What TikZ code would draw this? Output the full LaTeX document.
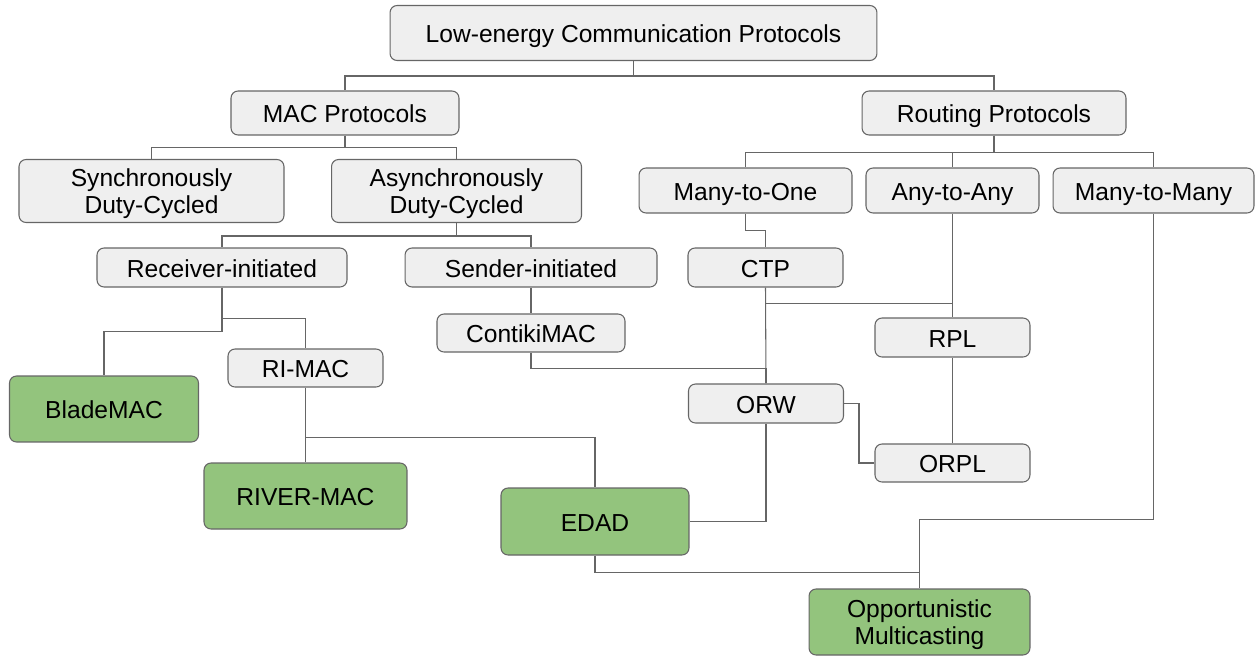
\documentclass[tikz,border=0pt]{standalone}
\usepackage{fontspec}
\setmainfont{Liberation Sans}
\usepackage{xcolor}
\usepackage{tikz}
\usetikzlibrary{positioning,calc}

\definecolor{boxgray}{HTML}{EFEFEF}
\definecolor{leafgreen}{HTML}{93C47D}
\definecolor{edgegray}{HTML}{666666}

\begin{document}
\begin{tikzpicture}[
    x=0.02cm, y=-0.02cm,
    proto/.style={rectangle, rounded corners=4pt, draw=edgegray, fill=boxgray, line width=0.6pt, inner sep=0pt, align=center, text depth=0pt, font=\fontsize{14}{15.5}\selectfont},
    oneline/.style={text height=11pt},
    leaf/.style={proto, fill=leafgreen},
    conn/.style={draw=edgegray, line width=0.6pt}
]
\useasboundingbox (0,0) rectangle (1255,656);

% Top levels
\node[proto, oneline, minimum width=9.74cm, minimum height=1.1cm] (root) at (633.5,33) {Low-energy Communication Protocols};
\node[proto, oneline, minimum width=4.56cm, minimum height=0.88cm] (mac) at (345,113) {MAC Protocols};
\node[proto, oneline, minimum width=5.28cm, minimum height=0.88cm] (routing) at (994,113) {Routing Protocols};

% MAC side
\node[proto, minimum width=5.3cm, minimum height=1.26cm] (sync) at (151.5,191) {Synchronously\\Duty-Cycled};
\node[proto, minimum width=5.0cm, minimum height=1.26cm] (async) at (456.5,191) {Asynchronously\\Duty-Cycled};
\node[proto, oneline, minimum width=5.0cm, minimum height=0.78cm] (recv) at (222,267.5) {Receiver-initiated};
\node[proto, oneline, minimum width=5.04cm, minimum height=0.78cm] (send) at (531,267.5) {Sender-initiated};
\node[proto, oneline, minimum width=3.76cm, minimum height=0.76cm] (contiki) at (531,333) {ContikiMAC};
\node[proto, oneline, minimum width=3.1cm, minimum height=0.76cm] (rimac) at (305.5,368) {RI-MAC};

% Routing side
\node[proto, oneline, minimum width=4.26cm, minimum height=0.9cm] (manyone) at (745.5,190.5) {Many-to-One};
\node[proto, oneline, minimum width=3.46cm, minimum height=0.9cm] (anyany) at (952.5,190.5) {Any-to-Any};
\node[proto, oneline, minimum width=4.02cm, minimum height=0.9cm] (manymany) at (1153.5,190.5) {Many-to-Many};
\node[proto, oneline, minimum width=3.1cm, minimum height=0.78cm] (ctp) at (765.5,267.5) {CTP};
\node[proto, oneline, minimum width=3.1cm, minimum height=0.78cm] (rpl) at (952.5,337.5) {RPL};
\node[proto, oneline, minimum width=3.1cm, minimum height=0.78cm] (orw) at (766,403.5) {ORW};
\node[proto, oneline, minimum width=3.1cm, minimum height=0.76cm] (orpl) at (952.5,463) {ORPL};

% Proposals
\node[leaf, oneline, minimum width=3.78cm, minimum height=1.32cm] (blademac) at (104,409) {BladeMAC};
\node[leaf, oneline, minimum width=4.06cm, minimum height=1.32cm] (rivermac) at (305.5,496) {RIVER-MAC};
\node[leaf, oneline, minimum width=3.76cm, minimum height=1.34cm] (edad) at (595,521.5) {EDAD};
\node[leaf, minimum width=4.42cm, minimum height=1.32cm] (oppmc) at (919.5,622) {Opportunistic\\Multicasting};

% Tree lines
\draw[conn] (root.south) -- ++(0,15) -| (mac.north);
\draw[conn] (root.south) -- ++(0,15) -| (routing.north);
\draw[conn] (mac.south) -- ++(0,12) -| (sync.north);
\draw[conn] (mac.south) -- ++(0,12) -| (async.north);
\draw[conn] (routing.south) -- ++(0,17) -| (manyone.north);
\draw[conn] (routing.south) -- ++(0,17) -| (anyany.north);
\draw[conn] (routing.south) -- ++(0,17) -| (manymany.north);
\draw[conn] (async.south) -- ++(0,13) -| (recv.north);
\draw[conn] (async.south) -- ++(0,13) -| (send.north);
\draw[conn] (recv.south) -- ++(0,44) -| (blademac.north);
\draw[conn] (recv.south) -- ++(0,31) -| (rimac.north);
\draw[conn] (send.south) -- (contiki.north);
\draw[conn] (rimac.south) -- (rivermac.north);
\draw[conn] (rimac.south) -- ++(0,50) -| (edad.north);

% Routing links
\draw[conn] (manyone.south) -- ++(0,17) -| (ctp.north);
\draw[conn] (ctp.south) -- (orw.north);
\draw[conn] (ctp.south) -- ++(0,16) -| (rpl.north);
\draw[conn] (anyany.south) -- (rpl.north);
\draw[conn] (contiki.south) -- ++(0,16) -| (orw.north);
\draw[conn] (rpl.south) -- (orpl.north);
\draw[conn] (orw.east) -- ++(15,0) |- (orpl.west);
\draw[conn] (orw.south) |- (edad.east);
\draw[conn] (edad.south) -- ++(0,17) -| (oppmc.north);
\draw[conn] (manymany.south) -- ++(0,306) -| (oppmc.north);

\end{tikzpicture}
\end{document}
